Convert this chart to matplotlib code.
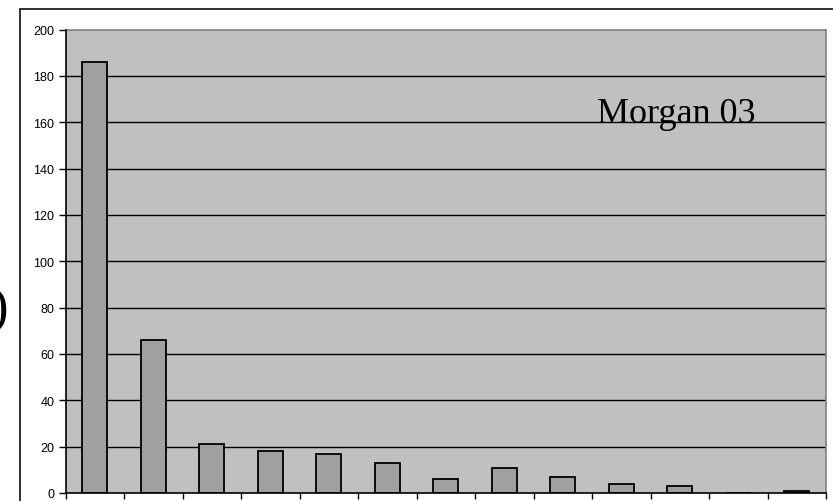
import matplotlib
matplotlib.use("Agg")
import matplotlib.pyplot as plt
from matplotlib.patches import Rectangle
import matplotlib.transforms as mtransforms
import numpy as np

# counts per class
valores = [186, 66, 21, 18, 17, 13, 6, 11, 7, 4, 3, 0, 1]
titulo = "Morgan 03"
yticks = list(range(0, 201, 20))

W, H = 833, 502
fig = plt.figure(figsize=(W / 100, H / 100), dpi=100)
fig.patch.set_facecolor("white")

# transform em pixels, origem no canto superior esquerdo
px = mtransforms.Affine2D().scale(1, -1).translate(0, H)

# moldura externa (cortada na direita e embaixo)
fig.patches.append(Rectangle((19.5 / W, -0.1), 1.2, 1 - 9.5 / H + 0.1,
                             transform=fig.transFigure, fill=False,
                             edgecolor="#202020", lw=1.3))

# pedaço do rótulo que sobra à esquerda
fig.text(8 / W, 1 - 311 / H, ")", ha="right", va="center", fontsize=38,
         family="Liberation Serif", color="black")

x0, x1 = 65.5, 826
y0, y1 = 494, 30.5
ax = fig.add_axes([x0 / W, 1 - y0 / H, (x1 - x0) / W, (y0 - y1) / H])
ax.set_facecolor("#C0C0C0")

n = len(valores)
pos = np.arange(n)
ax.bar(pos, valores, width=0.43, color="#A0A0A0", edgecolor="black",
       linewidth=1.3, zorder=3)

ax.set_xlim(-0.5, n - 0.5)
ax.set_ylim(0, 200)
ax.set_yticks(yticks)
ax.set_yticklabels([str(v) for v in yticks], family="Liberation Sans",
                   fontsize=9)
for v in yticks[1:-1]:
    ax.axhline(v, color="black", lw=1.0, zorder=1)

ax.set_xticks(np.arange(n + 1) - 0.5)
ax.set_xticklabels([])
ax.tick_params(axis="x", direction="out", length=4, width=1, color="black")
ax.tick_params(axis="y", direction="out", length=5, width=1, color="black",
               pad=3)

ax.spines["left"].set_color("black")
ax.spines["bottom"].set_color("black")
ax.spines["top"].set_color("#808080")
ax.spines["right"].set_color("#808080")
for s in ax.spines.values():
    s.set_linewidth(1.2)
ax.spines["left"].set_zorder(4)
ax.spines["bottom"].set_zorder(4)

ax.text(597, 123, titulo, transform=px, fontsize=26,
        family="Liberation Serif", ha="left", va="baseline")

fig.savefig("out.png", dpi=100)
